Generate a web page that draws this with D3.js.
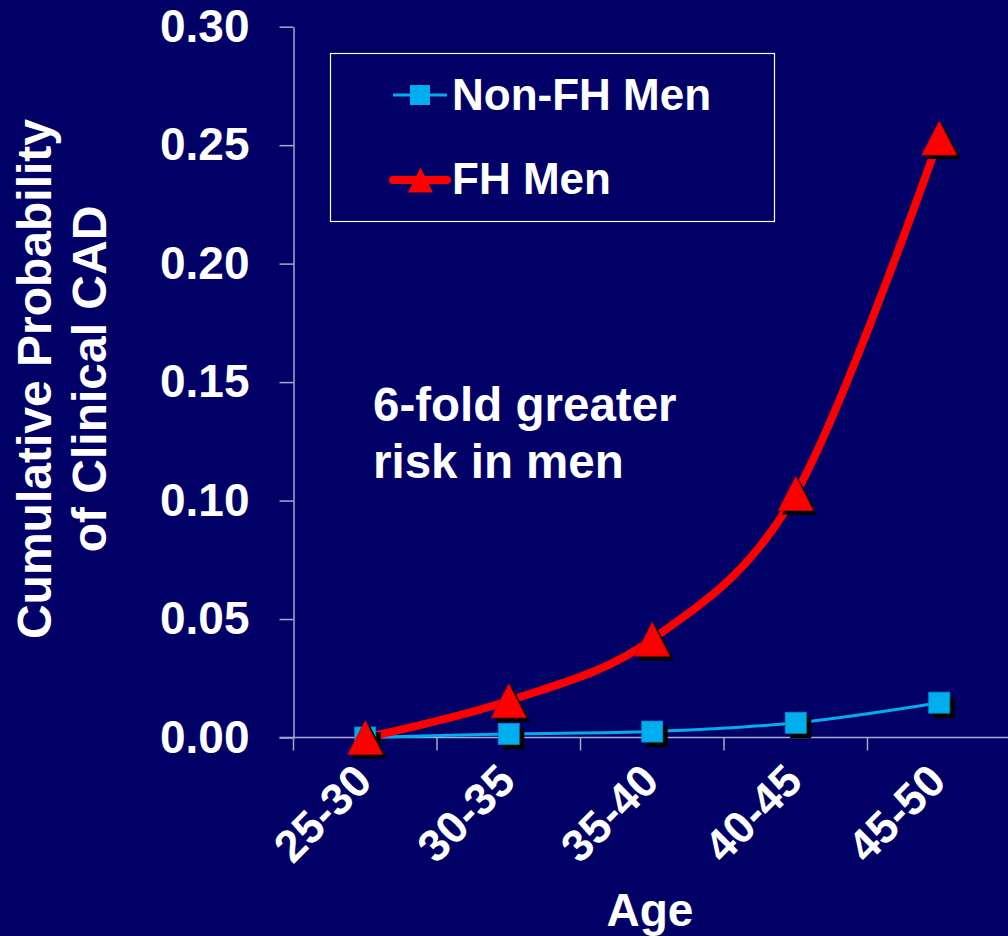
<!DOCTYPE html>
<html>
<head>
<meta charset="utf-8">
<script src="https://cdn.jsdelivr.net/npm/d3@7"></script>
<style>
  html, body { margin: 0; padding: 0; background: #000066; }
  svg { display: block; font-family: "Liberation Sans", Arial, sans-serif; font-weight: bold; }
</style>
</head>
<body>
<div id="chart"></div>
<script>
// data
const ageGroups = ["25-30", "30-35", "35-40", "40-45", "45-50"];
const nonFhMen = [0.000, 0.0015, 0.0025, 0.0062, 0.0147];
const fhMen = [0.000, 0.0155, 0.0415, 0.103, 0.253];
const yTicks = [0, 0.05, 0.10, 0.15, 0.20, 0.25, 0.30];
const seriesNames = ["Non-FH Men", "FH Men"];

(function() {
    const width = 1008;
    const height = 936;
    const bg = "#000066";
    const axisColor = "#a7a7cf";
    const blue = "#00aeef";
    const red = "#ff0000";

    const svg = d3.select("#chart")
        .append("svg")
        .attr("width", width)
        .attr("height", height)
        .attr("viewBox", [0, 0, width, height]);

    svg.append("rect").attr("width", width).attr("height", height).attr("fill", bg);

    const x = d3.scaleBand()
        .domain(ageGroups)
        .range([293.5, 293.5 + 5 * 143.5])
        .padding(0);
    const cx = d => x(d) + x.bandwidth() / 2;

    const y = d3.scaleLinear()
        .domain([0, 0.30])
        .range([737.5, 26.7]);

    // y axis
    const yAxis = svg.append("g")
        .attr("transform", `translate(${x.range()[0]},0)`)
        .call(d3.axisLeft(y)
            .tickValues(yTicks)
            .tickFormat(d3.format(".2f"))
            .tickSize(14)
            .tickSizeOuter(0)
            .tickPadding(30));
    yAxis.select(".domain").attr("stroke", axisColor).attr("stroke-width", 1.5);
    yAxis.selectAll(".tick line").attr("stroke", axisColor).attr("stroke-width", 1.5);
    yAxis.selectAll(".tick text")
        .attr("fill", "#fff")
        .style("font-size", "46px")
        .style("font-family", "Liberation Sans, Arial, sans-serif")
        .style("font-weight", "bold");

    // x axis: line plus ticks on category boundaries
    svg.append("line")
        .attr("x1", x.range()[0] - 14).attr("x2", width)
        .attr("y1", y(0)).attr("y2", y(0))
        .attr("stroke", axisColor).attr("stroke-width", 1.5);
    svg.selectAll(".xbound")
        .data(ageGroups)
        .join("line")
        .attr("x1", d => x(d)).attr("x2", d => x(d))
        .attr("y1", y(0)).attr("y2", y(0) + 13)
        .attr("stroke", axisColor).attr("stroke-width", 1.5);

    const xAxis = svg.append("g")
        .attr("transform", `translate(0,${y(0)})`)
        .call(d3.axisBottom(x).tickSize(0).tickSizeOuter(0));
    xAxis.select(".domain").remove();
    xAxis.selectAll(".tick text")
        .attr("fill", "#fff")
        .attr("text-anchor", "end")
        .attr("dy", 0)
        .attr("y", 0)
        .attr("transform", "translate(9,46) rotate(-45)")
        .style("font-size", "45px")
        .style("font-family", "Liberation Sans, Arial, sans-serif")
        .style("font-weight", "bold");

    // axis titles
    const yTitle = svg.append("text")
        .attr("transform", "translate(0,379) rotate(-90)")
        .attr("text-anchor", "middle")
        .attr("fill", "#fff")
        .style("font-size", "48px");
    yTitle.append("tspan").attr("x", 0).attr("y", 51).text("Cumulative Probability");
    yTitle.append("tspan").attr("x", 0).attr("y", 106).text("of Clinical CAD");

    svg.append("text")
        .attr("x", 650).attr("y", 926)
        .attr("text-anchor", "middle")
        .attr("fill", "#fff")
        .style("font-size", "46px")
        .text("Age");

    // annotation
    const note = svg.append("text")
        .attr("fill", "#fff")
        .style("font-size", "47.5px");
    note.append("tspan").attr("x", 373).attr("y", 421).text("6-fold greater");
    note.append("tspan").attr("x", 373).attr("y", 478).text("risk in men");

    // smooth lines
    const line = d3.line()
        .x((d, i) => cx(ageGroups[i]))
        .y(d => y(d))
        .curve(d3.curveCatmullRom.alpha(0));

    svg.append("path")
        .attr("d", line(nonFhMen))
        .attr("fill", "none")
        .attr("stroke", blue)
        .attr("stroke-width", 3);

    svg.append("path")
        .attr("d", line(fhMen))
        .attr("fill", "none")
        .attr("stroke", red)
        .attr("stroke-width", 8)
        .attr("stroke-linecap", "round");

    // markers
    const sq = 21;
    function triangle(px, py, w, h) {
        return `M${px},${py - h / 2}L${px + w / 2},${py + h / 2}L${px - w / 2},${py + h / 2}Z`;
    }

    const squares = svg.append("g");
    nonFhMen.forEach((v, i) => {
        const px = cx(ageGroups[i]);
        const py = y(v);
        squares.append("rect")
            .attr("x", px - sq / 2 + 5).attr("y", py - sq / 2 + 5)
            .attr("width", sq).attr("height", sq)
            .attr("fill", "#000");
        squares.append("rect")
            .attr("x", px - sq / 2).attr("y", py - sq / 2)
            .attr("width", sq).attr("height", sq)
            .attr("fill", blue)
            .attr("stroke", "#0090c8").attr("stroke-width", 0.8);
    });

    const tris = svg.append("g");
    fhMen.forEach((v, i) => {
        const px = cx(ageGroups[i]);
        const py = y(v);
        tris.append("path")
            .attr("d", triangle(px + 4, py + 4, 35, 34))
            .attr("fill", "#000");
        tris.append("path")
            .attr("d", triangle(px, py, 35, 34))
            .attr("fill", red)
            .attr("stroke", "#c00000").attr("stroke-width", 0.8);
    });

    // legend
    const legend = svg.append("g");
    legend.append("rect")
        .attr("x", 330.5).attr("y", 53.5)
        .attr("width", 444).attr("height", 168)
        .attr("fill", "none")
        .attr("stroke", "#fff")
        .attr("stroke-width", 1.2);

    const legendRows = [
        { name: seriesNames[0], color: blue, yc: 95, base: 110, w: 3 },
        { name: seriesNames[1], color: red, yc: 180, base: 194, w: 8 }
    ];
    legendRows.forEach((r, i) => {
        legend.append("line")
            .attr("x1", 393).attr("x2", 447)
            .attr("y1", r.yc).attr("y2", r.yc)
            .attr("stroke", r.color)
            .attr("stroke-width", r.w)
            .attr("stroke-linecap", i === 1 ? "round" : "butt");
        if (i === 0) {
            legend.append("rect")
                .attr("x", 410).attr("y", r.yc - 10)
                .attr("width", 20).attr("height", 20)
                .attr("fill", blue);
        } else {
            legend.append("path")
                .attr("d", triangle(420.5, r.yc, 25, 25))
                .attr("fill", red);
        }
        legend.append("text")
            .attr("x", 452).attr("y", r.base)
            .attr("fill", "#fff")
            .style("font-size", "44px")
            .text(r.name);
    });
})();
</script>
</body>
</html>
